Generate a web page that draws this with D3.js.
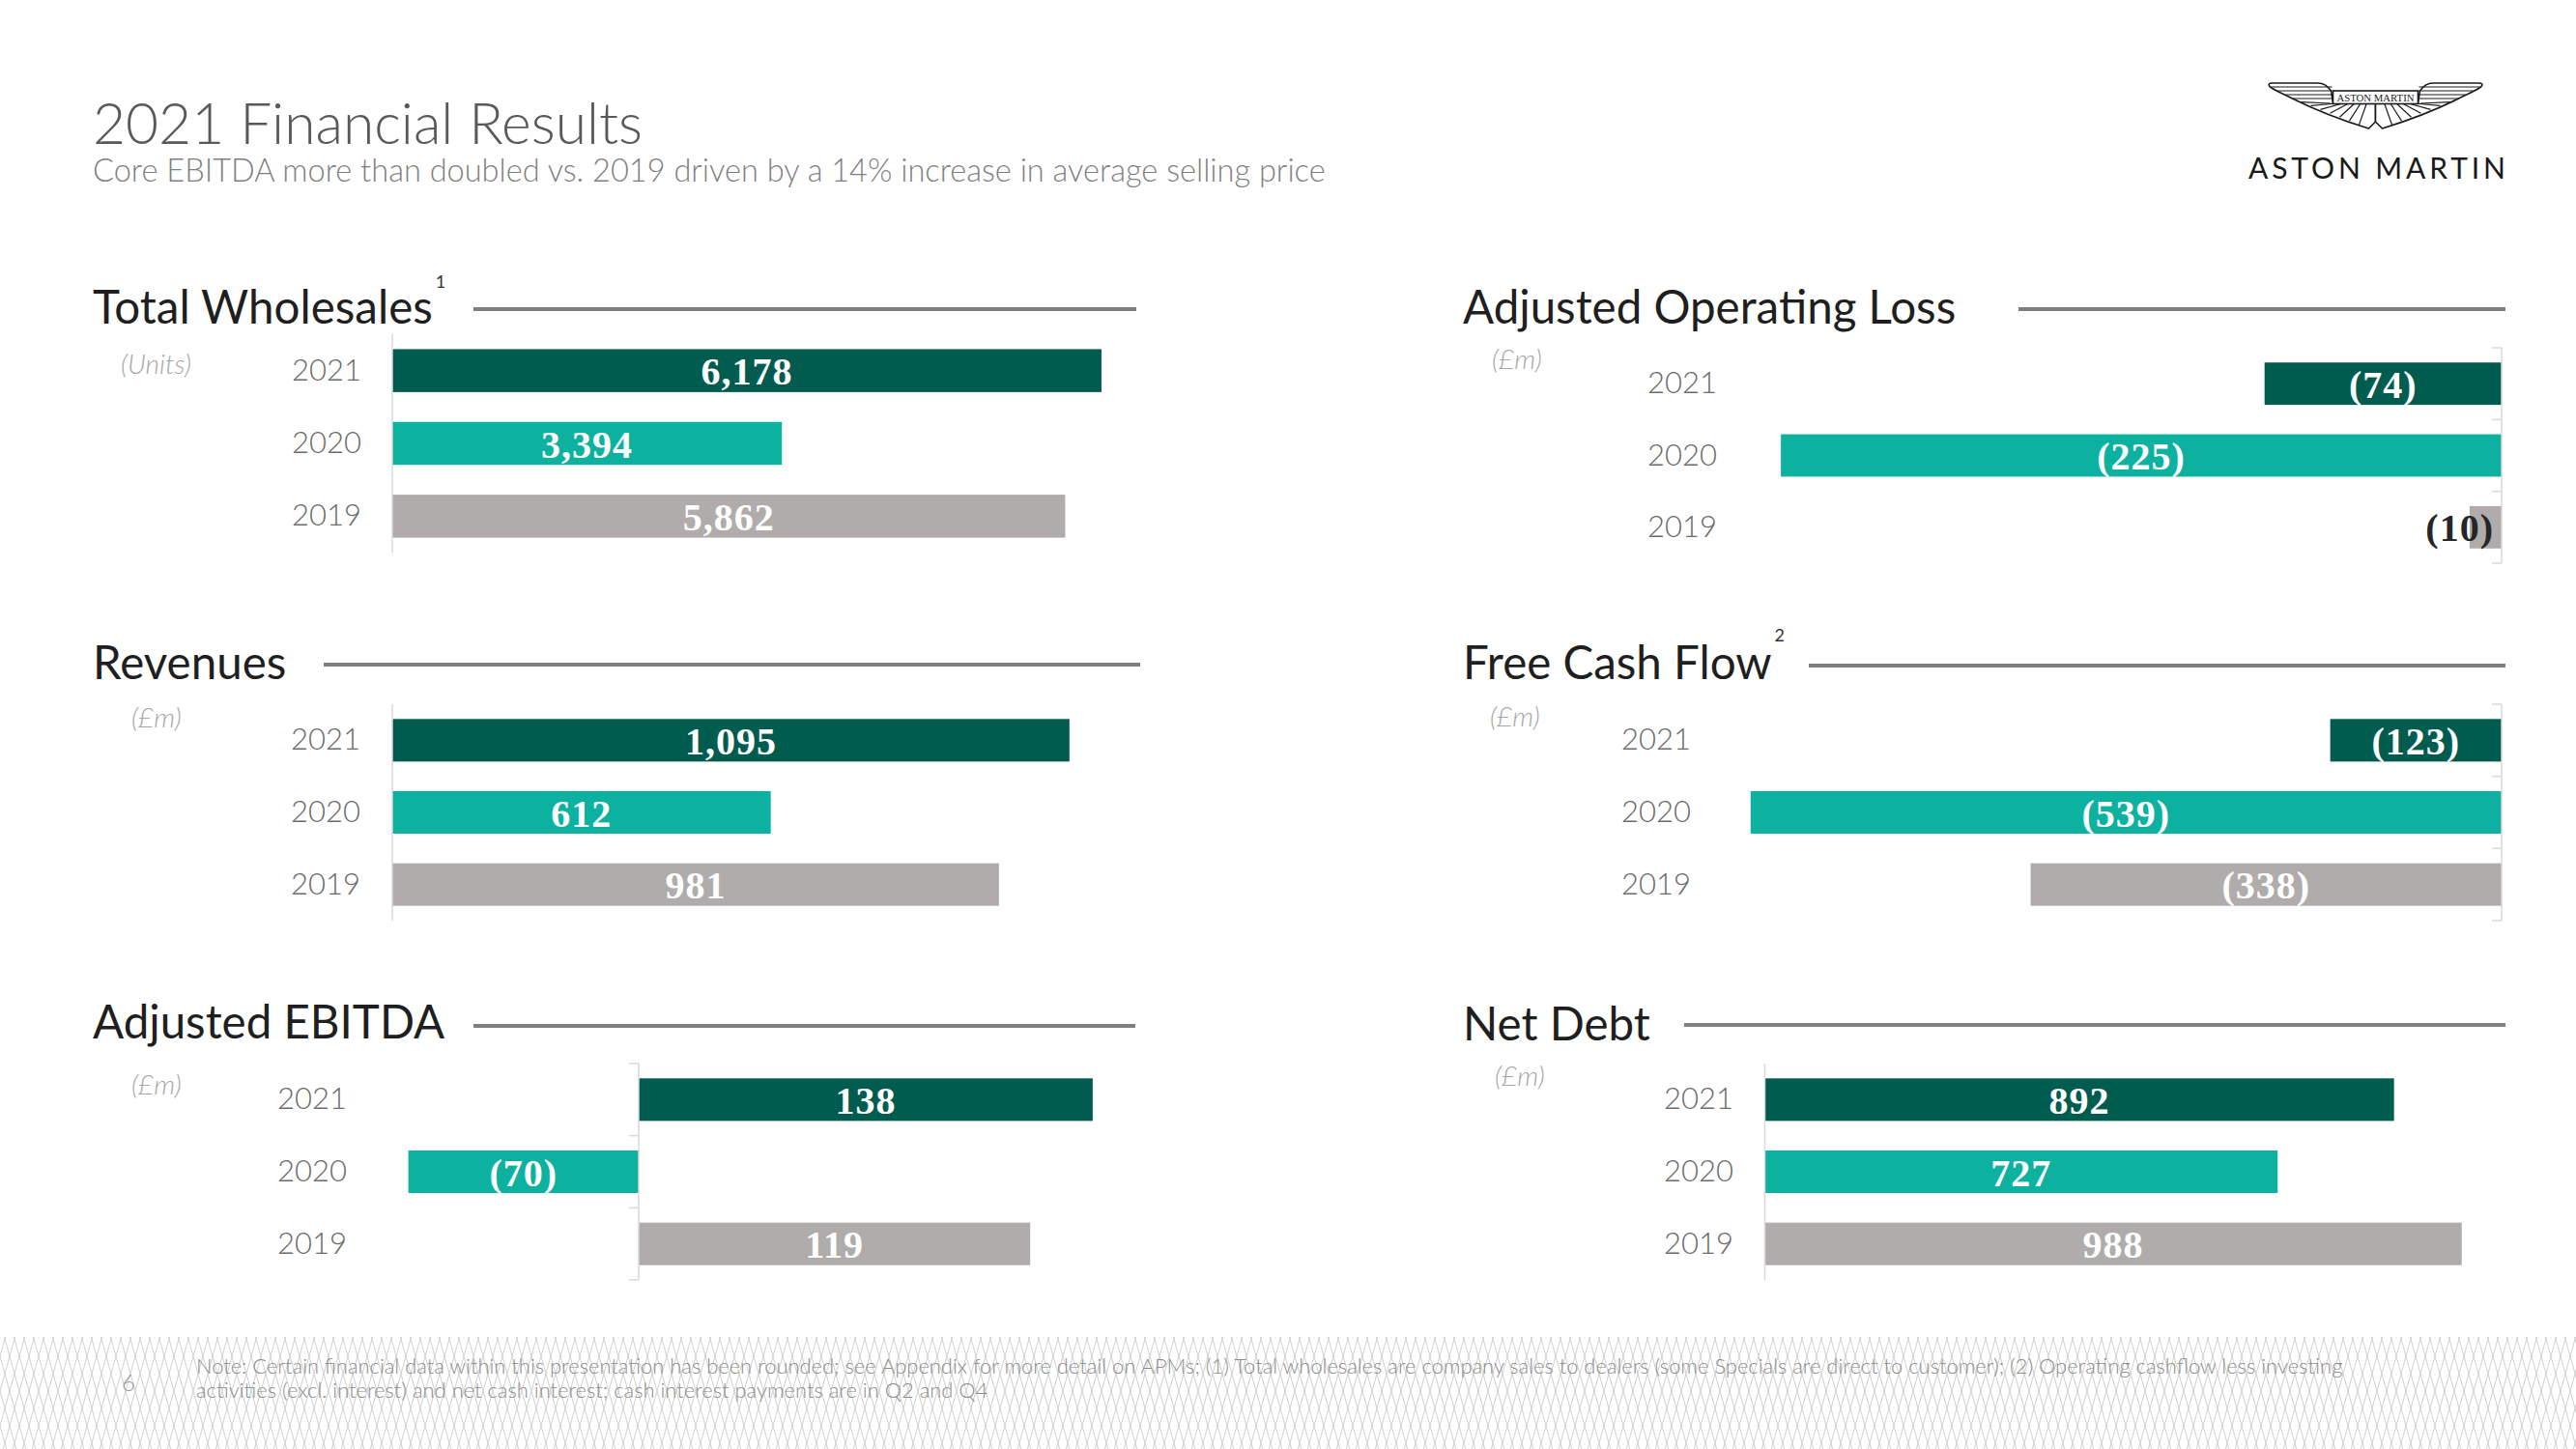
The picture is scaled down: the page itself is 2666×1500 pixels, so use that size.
<!DOCTYPE html>
<html>
<head>
<meta charset="utf-8">
<script src="https://cdn.jsdelivr.net/npm/d3@7/dist/d3.min.js"></script>
<style>
  html, body { margin: 0; padding: 0; background: #ffffff; }
  svg { display: block; }
</style>
</head>
<body>
<div id="chart"></div>
<script>
// ---------------- DATA ----------------
const years = ["2021", "2020", "2019"];
const totalWholesales = [6178, 3394, 5862];
const revenues = [1095, 612, 981];
const adjustedEbitda = [138, -70, 119];
const adjustedOperatingLoss = [-74, -225, -10];
const freeCashFlow = [-123, -539, -338];
const netDebt = [892, 727, 988];

const panelTitles = ["Total Wholesales", "Revenues", "Adjusted EBITDA",
                     "Adjusted Operating Loss", "Free Cash Flow", "Net Debt"];
const panelUnits = ["(Units)", "(£m)", "(£m)", "(£m)", "(£m)", "(£m)"];
const panelNotes = ["1", "", "", "", "2", ""];

const pageTitle = "2021 Financial Results";
const pageSubtitle = "Core EBITDA more than doubled vs. 2019 driven by a 14% increase in average selling price";
const footLine1 = "Note: Certain financial data within this presentation has been rounded; see Appendix for more detail on APMs; (1) Total wholesales are company sales to dealers (some Specials are direct to customer); (2) Operating cashflow less investing";
const footLine2 = "activities (excl. interest) and net cash interest; cash interest payments are in Q2 and Q4";
const pageNumber = "6";

// ---------------- STYLE / LAYOUT ----------------
const W = 2666, H = 1500;
const yearColors = { "2021": "#005c4f", "2020": "#0db1a0", "2019": "#afacab" };

const layout = [
  { values: totalWholesales, domain: [0, 7000], xRange: [406, 1237.6], yRange: [346, 572],
    titleX: 96, titleBase: 335, supBase: 298, line: [490, 1176, 320],
    unitX: 125, unitY: 376, yearX: 374, ticks: false },
  { values: revenues, domain: [0, 1200], xRange: [406, 1174], yRange: [729, 953],
    titleX: 96, titleBase: 703, line: [335, 1180, 688],
    unitX: 136, unitY: 742, yearX: 373, ticks: false },
  { values: adjustedEbitda, domain: [-100, 150], xRange: [320.5, 1171.75], yRange: [1101, 1325],
    titleX: 96, titleBase: 1075, line: [490, 1175, 1062],
    unitX: 136, unitY: 1122, yearX: 359, ticks: true },
  { values: adjustedOperatingLoss, domain: [-250, 0], xRange: [1760.25, 2589], yRange: [360, 583],
    titleX: 1514, titleBase: 335, line: [2089, 2593, 320],
    unitX: 1544, unitY: 371, yearX: 1777, ticks: true },
  { values: freeCashFlow, domain: [-600, 0], xRange: [1723.8, 2589], yRange: [729, 953],
    titleX: 1514, titleBase: 703, supBase: 664, line: [1872, 2593, 689],
    unitX: 1542, unitY: 741, yearX: 1750, ticks: true },
  { values: netDebt, domain: [0, 1000], xRange: [1826.5, 2556.5], yRange: [1101, 1325],
    titleX: 1514, titleBase: 1077, line: [1743, 2593, 1061],
    unitX: 1547, unitY: 1113, yearX: 1794, ticks: false }
];

const sans = "Lato, 'Open Sans', 'Noto Sans', sans-serif";
const serif = "'Liberation Serif', 'DejaVu Serif', serif";

const fmtNum = d3.format(",");
const fmt = v => v < 0 ? "(" + fmtNum(-v) + ")" : fmtNum(v);

// ---------------- SVG ----------------
const svg = d3.select("#chart").append("svg")
  .attr("width", W).attr("height", H)
  .attr("viewBox", `0 0 ${W} ${H}`);

svg.append("rect").attr("width", W).attr("height", H).attr("fill", "#ffffff");

// Footer lattice pattern
const defs = svg.append("defs");
const pat = defs.append("pattern").attr("id", "lattice")
  .attr("patternUnits", "userSpaceOnUse").attr("width", 10).attr("height", 36);
pat.append("path").attr("d", "M0,0 L10,36 M10,0 L0,36 M-10,0 L0,36 M20,0 L10,36 M0,0 L-10,36 M10,0 L20,36")
  .attr("stroke", "#d0d0d0").attr("stroke-width", 1).attr("fill", "none");

function fitWidth(sel, target) {
  const n = sel.node();
  const cur = n.getComputedTextLength();
  const fs = parseFloat(sel.attr("font-size"));
  if (cur > 0) sel.attr("font-size", (fs * target / cur).toFixed(2));
}

// Page title & subtitle
const t1 = svg.append("text").attr("x", 96).attr("y", 149)
  .attr("font-family", sans).attr("font-weight", 300).attr("font-size", 57)
  .attr("fill", "#595959").text(pageTitle);
fitWidth(t1, 569);
const t2 = svg.append("text").attr("x", 96).attr("y", 188)
  .attr("font-family", sans).attr("font-weight", 300).attr("font-size", 31)
  .attr("fill", "#7f7f7f").text(pageSubtitle);
fitWidth(t2, 1276);

// ---------------- PANELS ----------------
layout.forEach((p, i) => {
  const g = svg.append("g").attr("class", "panel");
  const data = years.map((y, k) => ({ year: y, value: p.values[k] }));

  const x = d3.scaleLinear().domain(p.domain).range(p.xRange);
  const y = d3.scaleBand().domain(years).range(p.yRange)
    .paddingInner(0.41).paddingOuter(0.205);

  // Title
  const title = g.append("text").attr("x", p.titleX).attr("y", p.titleBase)
    .attr("font-family", sans).attr("font-weight", 400).attr("font-size", 47.5)
    .attr("fill", "#1f1f1f").text(panelTitles[i]);
  if (panelNotes[i]) {
    const tEnd = p.titleX + title.node().getComputedTextLength();
    g.append("text").attr("x", tEnd + 3).attr("y", p.supBase)
      .attr("text-anchor", "start")
      .attr("font-family", sans).attr("font-weight", 400).attr("font-size", 18)
      .attr("fill", "#333333").text(panelNotes[i]);
  }
  g.append("line").attr("x1", p.line[0]).attr("x2", p.line[1])
    .attr("y1", p.line[2]).attr("y2", p.line[2])
    .attr("stroke", "#7f7f7f").attr("stroke-width", 4);

  // Unit
  g.append("text").attr("x", p.unitX).attr("y", p.unitY)
    .attr("dominant-baseline", "central")
    .attr("font-family", sans).attr("font-style", "italic").attr("font-weight", 300)
    .attr("font-size", 28).attr("fill", "#a6a6a6").text(panelUnits[i]);

  // Year labels
  g.selectAll("text.year").data(data).join("text").attr("class", "year")
    .attr("x", p.yearX).attr("y", d => y(d.year) + y.bandwidth() / 2 - 2)
    .attr("text-anchor", "end").attr("dominant-baseline", "central")
    .attr("font-family", sans).attr("font-weight", 300).attr("font-size", 31)
    .attr("fill", "#6b6b6b").text(d => d.year);

  // Bars
  g.selectAll("rect.bar").data(data).join("rect").attr("class", "bar")
    .attr("x", d => Math.min(x(0), x(d.value)))
    .attr("width", d => Math.abs(x(d.value) - x(0)))
    .attr("y", d => y(d.year))
    .attr("height", y.bandwidth())
    .attr("fill", d => yearColors[d.year]);

  // Category axis at zero
  const ax = x(0);
  g.append("line").attr("x1", ax).attr("x2", ax)
    .attr("y1", p.yRange[0]).attr("y2", p.yRange[1])
    .attr("stroke", "#d9d9d9").attr("stroke-width", 1.5);
  if (p.ticks) {
    const bandStep = (p.yRange[1] - p.yRange[0]) / years.length;
    g.selectAll("line.tick").data(d3.range(years.length + 1)).join("line")
      .attr("class", "tick")
      .attr("x1", ax - 10).attr("x2", ax)
      .attr("y1", k => p.yRange[0] + k * bandStep)
      .attr("y2", k => p.yRange[0] + k * bandStep)
      .attr("stroke", "#d9d9d9").attr("stroke-width", 1.5);
  }

  // Value labels
  const labels = g.selectAll("text.val").data(data).join("text").attr("class", "val")
    .attr("y", d => y(d.year) + y.bandwidth() / 2 + 1)
    .attr("dominant-baseline", "central")
    .attr("font-family", serif).attr("font-weight", 700).attr("font-size", 40)
    .attr("letter-spacing", 1)
    .text(d => fmt(d.value));
  labels.each(function(d) {
    const sel = d3.select(this);
    const tw = this.getComputedTextLength();
    const bw = Math.abs(x(d.value) - x(0));
    if (tw + 8 > bw) {
      const end = d.value < 0 ? x(0) - 8 : x(d.value) + 8 + tw;
      sel.attr("x", end).attr("text-anchor", "end").attr("fill", "#262626");
    } else {
      sel.attr("x", (x(0) + x(d.value)) / 2).attr("text-anchor", "middle").attr("fill", "#ffffff");
    }
  });
});

// ---------------- LOGO ----------------
const logo = svg.append("g").attr("transform", "translate(2458.5,86)");
function wing(gw) {
  gw.append("path")
    .attr("d", "M -7,47 C -30,40 -60,29 -86,16 C -98,10 -108,6 -110,3 C -111,1 -110,0 -107,0 L -60,0 C -53,0 -50,3 -46,8 L -44,21 L 0,21 L 0,40 Z")
    .attr("fill", "#ffffff").attr("stroke", "#1a1a1a").attr("stroke-width", 1.6)
    .attr("stroke-linejoin", "round");
  [[4, -108], [8, -101], [12, -93], [16, -86]].forEach(([yy, xs]) => {
    gw.append("line").attr("x1", xs).attr("x2", -45).attr("y1", yy).attr("y2", yy)
      .attr("stroke", "#1a1a1a").attr("stroke-width", 1.2);
  });
  for (let k = 1; k <= 7; k++) {
    const bx = -7 - k * 10;
    const by = 47 - (k * 10) * (31 / 79);
    const tx = -3 - k * 6.2;
    const ty = 21;
    gw.append("line").attr("x1", bx).attr("y1", by).attr("x2", tx).attr("y2", ty)
      .attr("stroke", "#1a1a1a").attr("stroke-width", 1.2);
  }
}
wing(logo.append("g"));
wing(logo.append("g").attr("transform", "scale(-1,1)"));
logo.append("rect").attr("x", -44).attr("y", 8).attr("width", 88).attr("height", 13.5)
  .attr("fill", "#ffffff").attr("stroke", "#1a1a1a").attr("stroke-width", 1.6);
logo.append("text").attr("x", 0).attr("y", 18.6).attr("text-anchor", "middle")
  .attr("font-family", serif).attr("font-size", 11).attr("fill", "#1a1a1a")
  .attr("textLength", 80).attr("lengthAdjust", "spacingAndGlyphs").text("ASTON MARTIN");

svg.append("text").attr("x", 2327).attr("y", 185)
  .attr("font-family", sans).attr("font-weight", 400).attr("font-size", 30)
  .attr("fill", "#1a1a1a").attr("textLength", 266).attr("lengthAdjust", "spacing")
  .text("ASTON MARTIN");

// ---------------- FOOTER ----------------
svg.append("rect").attr("x", 0).attr("y", 1384).attr("width", W).attr("height", H - 1384)
  .attr("fill", "url(#lattice)");
svg.append("text").attr("x", 133).attr("y", 1430).attr("text-anchor", "middle")
  .attr("dominant-baseline", "central")
  .attr("font-family", sans).attr("font-weight", 300).attr("font-size", 24)
  .attr("fill", "#9a9a9a").text(pageNumber);
const f1 = svg.append("text").attr("x", 203).attr("y", 1422)
  .attr("font-family", sans).attr("font-weight", 300).attr("font-size", 21)
  .attr("fill", "#8c8c8c").text(footLine1);
fitWidth(f1, 2223);
const f2 = svg.append("text").attr("x", 203).attr("y", 1447)
  .attr("font-family", sans).attr("font-weight", 300).attr("font-size", f1.attr("font-size"))
  .attr("fill", "#8c8c8c").text(footLine2);
</script>
</body>
</html>
